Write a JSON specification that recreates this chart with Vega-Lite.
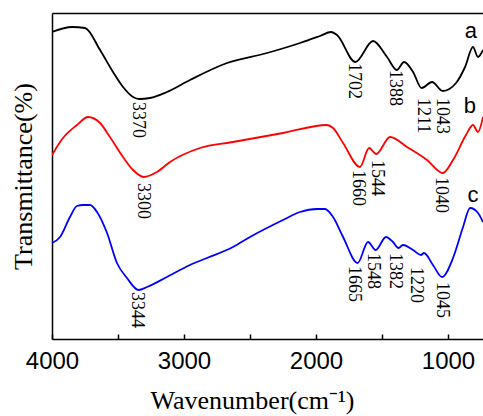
{
  "$schema": "https://vega.github.io/schema/vega-lite/v6.json",
  "width": 431,
  "height": 326,
  "autosize": "none",
  "padding": {"left": 52, "top": 13, "right": 0, "bottom": 77},
  "background": "white",
  "config": {
    "view": {"stroke": null},
    "axis": {"domainColor": "black", "domainWidth": 1.5, "tickColor": "black", "grid": false}
  },
  "datasets": {
    "spectra": [
      {"w": 4000, "T": 307, "s": "a"}, {"w": 3848, "T": 312, "s": "a"}, {"w": 3750, "T": 311, "s": "a"},
      {"w": 3636, "T": 289, "s": "a"}, {"w": 3538, "T": 267, "s": "a"}, {"w": 3462, "T": 252, "s": "a"},
      {"w": 3386, "T": 242, "s": "a"}, {"w": 3340, "T": 240, "s": "a"}, {"w": 3258, "T": 241, "s": "a"},
      {"w": 3129, "T": 247, "s": "a"}, {"w": 2955, "T": 259, "s": "a"}, {"w": 2674, "T": 276, "s": "a"},
      {"w": 2371, "T": 286, "s": "a"}, {"w": 2121, "T": 296, "s": "a"}, {"w": 1970, "T": 303, "s": "a"},
      {"w": 1886, "T": 307, "s": "a"}, {"w": 1841, "T": 304, "s": "a"}, {"w": 1702, "T": 277, "s": "a"},
      {"w": 1568, "T": 298, "s": "a"}, {"w": 1462, "T": 282, "s": "a"}, {"w": 1388, "T": 269, "s": "a"},
      {"w": 1333, "T": 277, "s": "a"}, {"w": 1265, "T": 267, "s": "a"}, {"w": 1200, "T": 251, "s": "a"},
      {"w": 1121, "T": 257, "s": "a"}, {"w": 1040, "T": 248, "s": "a"}, {"w": 939, "T": 256, "s": "a"},
      {"w": 871, "T": 272, "s": "a"}, {"w": 811, "T": 292, "s": "a"}, {"w": 773, "T": 282, "s": "a"},
      {"w": 735, "T": 289, "s": "a"},
      {"w": 4000, "T": 184, "s": "b"}, {"w": 3917, "T": 201, "s": "b"}, {"w": 3811, "T": 214, "s": "b"},
      {"w": 3727, "T": 222, "s": "b"}, {"w": 3636, "T": 216, "s": "b"}, {"w": 3561, "T": 202, "s": "b"},
      {"w": 3462, "T": 182, "s": "b"}, {"w": 3386, "T": 169, "s": "b"}, {"w": 3305, "T": 162, "s": "b"},
      {"w": 3205, "T": 167, "s": "b"}, {"w": 3106, "T": 177, "s": "b"}, {"w": 2879, "T": 191, "s": "b"},
      {"w": 2629, "T": 197, "s": "b"}, {"w": 2250, "T": 206, "s": "b"}, {"w": 1917, "T": 214, "s": "b"},
      {"w": 1871, "T": 211, "s": "b"}, {"w": 1795, "T": 196, "s": "b"}, {"w": 1667, "T": 172, "s": "b"},
      {"w": 1598, "T": 191, "s": "b"}, {"w": 1544, "T": 185, "s": "b"}, {"w": 1439, "T": 202, "s": "b"},
      {"w": 1311, "T": 192, "s": "b"}, {"w": 1159, "T": 179, "s": "b"}, {"w": 1040, "T": 166, "s": "b"},
      {"w": 962, "T": 179, "s": "b"}, {"w": 864, "T": 204, "s": "b"}, {"w": 811, "T": 214, "s": "b"},
      {"w": 773, "T": 207, "s": "b"}, {"w": 735, "T": 222, "s": "b"},
      {"w": 4000, "T": 96, "s": "c"}, {"w": 3939, "T": 102, "s": "c"}, {"w": 3864, "T": 122, "s": "c"},
      {"w": 3811, "T": 133, "s": "c"}, {"w": 3765, "T": 134, "s": "c"}, {"w": 3712, "T": 134, "s": "c"},
      {"w": 3659, "T": 127, "s": "c"}, {"w": 3583, "T": 106, "s": "c"}, {"w": 3508, "T": 76, "s": "c"},
      {"w": 3432, "T": 61, "s": "c"}, {"w": 3344, "T": 49, "s": "c"}, {"w": 3280, "T": 52, "s": "c"},
      {"w": 3129, "T": 62, "s": "c"}, {"w": 2955, "T": 74, "s": "c"}, {"w": 2826, "T": 81, "s": "c"},
      {"w": 2629, "T": 92, "s": "c"}, {"w": 2500, "T": 102, "s": "c"}, {"w": 2250, "T": 119, "s": "c"},
      {"w": 2121, "T": 127, "s": "c"}, {"w": 1992, "T": 130, "s": "c"}, {"w": 1932, "T": 130, "s": "c"},
      {"w": 1871, "T": 122, "s": "c"}, {"w": 1795, "T": 102, "s": "c"}, {"w": 1685, "T": 76, "s": "c"},
      {"w": 1606, "T": 97, "s": "c"}, {"w": 1548, "T": 89, "s": "c"}, {"w": 1470, "T": 102, "s": "c"},
      {"w": 1417, "T": 97, "s": "c"}, {"w": 1375, "T": 91, "s": "c"}, {"w": 1341, "T": 94, "s": "c"},
      {"w": 1265, "T": 89, "s": "c"}, {"w": 1205, "T": 84, "s": "c"}, {"w": 1182, "T": 86, "s": "c"},
      {"w": 1114, "T": 74, "s": "c"}, {"w": 1045, "T": 62, "s": "c"}, {"w": 962, "T": 81, "s": "c"},
      {"w": 886, "T": 112, "s": "c"}, {"w": 833, "T": 131, "s": "c"}, {"w": 773, "T": 126, "s": "c"},
      {"w": 735, "T": 117, "s": "c"}
    ],
    "peaks": [
      {"w": 3352, "T": 237, "label": "3370"}, {"w": 1716, "T": 276, "label": "1702"},
      {"w": 1402, "T": 269, "label": "1388"}, {"w": 1186, "T": 241, "label": "1211"},
      {"w": 1049, "T": 241, "label": "1043"},
      {"w": 3314, "T": 156, "label": "3300"}, {"w": 1682, "T": 169, "label": "1660"},
      {"w": 1538, "T": 179, "label": "1544"}, {"w": 1053, "T": 162, "label": "1040"},
      {"w": 3356, "T": 47, "label": "3344"}, {"w": 1716, "T": 73, "label": "1665"},
      {"w": 1572, "T": 86, "label": "1548"}, {"w": 1402, "T": 86, "label": "1382"},
      {"w": 1242, "T": 72, "label": "1220"}, {"w": 1049, "T": 57, "label": "1045"}
    ],
    "series": [
      {"w": 826, "T": 301, "label": "a"},
      {"w": 834, "T": 226, "label": "b"},
      {"w": 811, "T": 137, "label": "c"}
    ]
  },
  "resolve": {"axis": {"x": "independent"}},
  "layer": [
    {
      "data": {"name": "spectra"},
      "mark": {"type": "line", "strokeWidth": 1.8, "interpolate": "monotone", "clip": true},
      "encoding": {
        "x": {
          "field": "w", "type": "quantitative",
          "scale": {"domain": [4000, 735], "nice": false, "zero": false},
          "axis": {
            "orient": "bottom",
            "values": [4000, 3500, 3000, 2500, 2000, 1500, 1000],
            "labelExpr": "datum.value % 1000 === 0 ? format(datum.value, 'd') : ''",
            "labelOverlap": false,
            "tickSize": -5,
            "tickWidth": 1.5,
            "labelFlush": false,
            "labelFont": "Liberation Sans",
            "labelFontSize": 24,
            "labelColor": "black",
            "labelPadding": 15,
            "title": "Wavenumber(cm⁻¹)",
            "titleFont": "Liberation Serif",
            "titleFontSize": 26,
            "titleFontWeight": "normal",
            "titleColor": "black",
            "titlePadding": 14,
            "titleX": 200
          }
        },
        "y": {
          "field": "T", "type": "quantitative",
          "scale": {"domain": [0, 326], "nice": false, "zero": false},
          "axis": {
            "ticks": false, "labels": false,
            "title": "Transmittance(%)",
            "titleFont": "Liberation Serif",
            "titleFontSize": 26,
            "titleFontWeight": "normal",
            "titleColor": "black",
            "titlePadding": 16
          }
        },
        "color": {
          "field": "s", "type": "nominal",
          "scale": {"domain": ["a", "b", "c"], "range": ["#000000", "#ff0000", "#0000ff"]},
          "legend": null
        }
      }
    },
    {
      "data": {"name": "peaks"},
      "mark": {"type": "text", "angle": 90, "align": "left", "baseline": "middle", "font": "Liberation Serif", "fontSize": 18, "color": "black"},
      "encoding": {
        "x": {"field": "w", "type": "quantitative", "axis": {"orient": "top", "ticks": false, "labels": false, "title": null, "domain": true}},
        "y": {"field": "T", "type": "quantitative"},
        "text": {"field": "label"}
      }
    },
    {
      "data": {"name": "series"},
      "mark": {"type": "text", "align": "center", "baseline": "alphabetic", "font": "Liberation Sans", "fontSize": 22, "color": "black"},
      "encoding": {
        "x": {"field": "w", "type": "quantitative", "axis": null},
        "y": {"field": "T", "type": "quantitative"},
        "text": {"field": "label"}
      }
    }
  ]
}
